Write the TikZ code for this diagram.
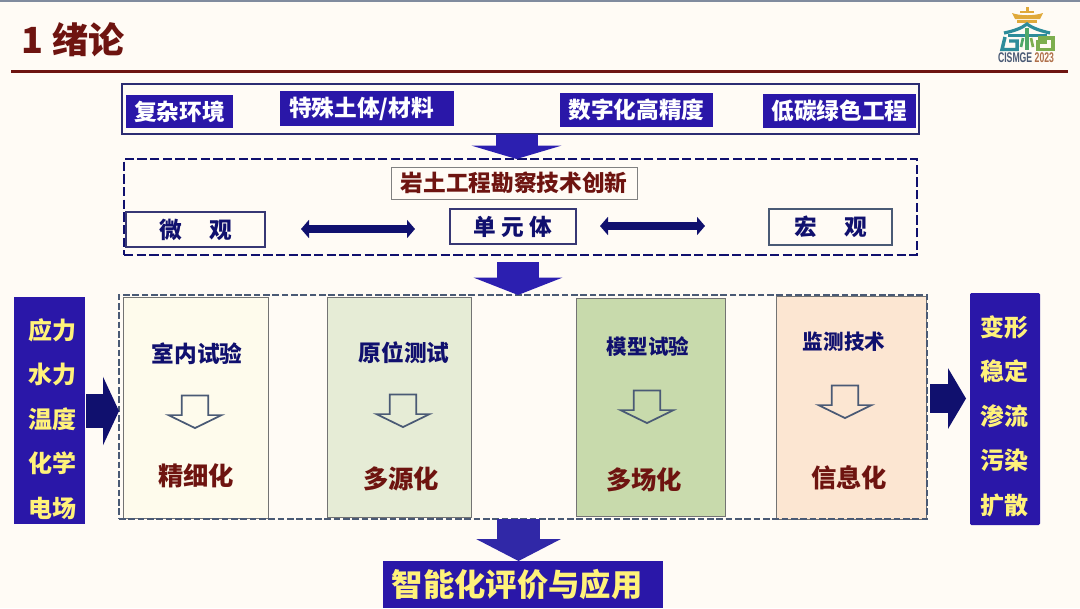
\documentclass[tikz,border=0pt]{standalone}
\usepackage{fontspec}
\setmainfont{Noto Sans CJK SC}
\newfontfamily\logofont{Liberation Sans}
\usetikzlibrary{arrows.meta,shapes.arrows,calc}
\definecolor{bgc}{HTML}{FFFBF5}
\definecolor{blueb}{HTML}{2A17A8}
\definecolor{navy}{HTML}{10106E}
\definecolor{maroon}{HTML}{6E1410}
\definecolor{slate}{HTML}{4A5A75}
\definecolor{yel}{HTML}{FFF27A}
\definecolor{boxa}{HTML}{FEFBEC}
\definecolor{boxb}{HTML}{E6ECD6}
\definecolor{boxc}{HTML}{C8DAAC}
\definecolor{boxd}{HTML}{FCE6D2}
\definecolor{arrowb}{HTML}{2C1FB0}
\definecolor{lgold}{HTML}{E0A93A}
\definecolor{lteal}{HTML}{2E8C9A}
\definecolor{lgreen}{HTML}{4FA868}
\definecolor{lolive}{HTML}{7DAE4E}
\definecolor{lbrown}{HTML}{B0704A}
\tikzset{
  x=0.75pt,y=-0.75pt,
  boxat/.style args={#1/#2/#3/#4}{minimum width=(#3-#1)*0.75pt,minimum height=(#4-#2)*0.75pt,inner sep=0pt,outer sep=0pt,anchor=center,at={({(#1+#3)/2},{(#2+#4)/2})}},
  bluebox/.style={fill=blueb,text=white,font=\bfseries\fontsize{17}{20}\selectfont},
  whitebox/.style={draw=navy!65!gray,line width=0.8pt,fill=bgc,text=navy,font=\bfseries\fontsize{17}{20}\selectfont},
  sidebox/.style={fill=blueb},
  sidetext/.style={text=yel,align=center,inner sep=0pt,font=\bfseries\fontsize{18}{33.4}\selectfont},
  panel/.style={draw=gray!90!black,line width=0.6pt},
  panelhead/.style={text=navy,font=\bfseries\fontsize{17}{20}\selectfont,inner sep=0pt},
  panelheadsm/.style={text=navy,font=\bfseries\fontsize{15.4}{18}\selectfont,inner sep=0pt},
  panelfoot/.style={text=maroon,font=\bfseries\fontsize{19}{22}\selectfont,inner sep=0pt},
  openarrow/.style={shape=single arrow,rotate=-90,draw=slate,line width=1.3pt,fill=none,minimum height=24.5pt,single arrow head extend=10pt,single arrow tip angle=128,inner sep=0pt,outer sep=0pt},
  twohead/.style={navy,line width=6.5pt,{Triangle[length=6pt,width=13.5pt]}-{Triangle[length=6pt,width=13.5pt]}},
}
\newcommand{\opn}{\rule{0pt}{18.5pt}}
\begin{document}
\begin{tikzpicture}
\useasboundingbox (0,0) rectangle (1080,608);
\fill[bgc] (0,0) rectangle (1080,608);
\fill[slate!70!white] (0,0) rectangle (1080,1.5);
% title
\node[anchor=west,inner sep=0pt,text=maroon,font=\bfseries\fontsize{27}{30}\selectfont] (title) at (21,40) {1\hspace{7pt}绪论};
\coordinate (ruleL) at (11,71.5);
\coordinate (ruleR) at (1068,71.5);
\draw[maroon,line width=2.4pt] (ruleL) -- (ruleR);
% logo
\fill[lgold] (1025.5,7) rectangle (1028.5,13);
\fill[lgold] (1020,10.5) rectangle (1034,12.5);
\fill[lgold] (1012,13) .. controls (1020,16) and (1034,16) .. (1043,13) -- (1040,19) -- (1015,19) -- cycle;
\fill[lgold] (1017,20) rectangle (1037,22.5);
\draw[lteal,line width=2.4pt] (1004,33) .. controls (1014,31) and (1022,28) .. (1027,24) .. controls (1032,28) and (1041,31) .. (1050,33);
\draw[lteal,line width=2pt] (1008,35.5) -- (1047,35.5);
\draw[lteal,line width=2.6pt] (1005,37) -- (1002,49.5) -- (1017,49.5) -- (1017,41) -- (1009,41);
\draw[lgreen,line width=2.6pt] (1027,28) -- (1027,50);
\draw[lgreen,line width=2pt] (1021,47) -- (1023,38);
\draw[lolive,line width=2pt] (1031,38) -- (1033,47);
\draw[lolive,line width=2.6pt] (1038,38) -- (1053,38) -- (1053,49.5) -- (1038,49.5) -- (1038,42) -- (1047,42);
\node[inner sep=0pt,font=\logofont\bfseries\fontsize{10.5}{12}\selectfont,anchor=center,xscale=0.62] (logotext) at (1026,58) {\textcolor{slate}{CISMGE} \textcolor{lbrown}{2023}};
% top group
\node[boxat=122/84/919/134,draw=navy!75!gray,line width=0.8pt] (top) {};
\node[boxat=126/95/233/128,bluebox] (c1) {复杂环境};
\node[boxat=280/91/454/126,bluebox] (c2) {特殊土体/材料\kern 8pt\null};
\node[boxat=560/93/713/127,bluebox] (c3) {数字化高精度};
\node[boxat=763/94/916/128,bluebox] (c4) {低碳绿色工程};
% dashed group
\node[boxat=124/159/917/255,draw=navy,line width=2.2pt,dash pattern=on 7pt off 2.5pt] (mid) {};
\node[boxat=391/167/637/199,draw=gray,line width=.7pt,fill=bgc,text=maroon,font=\bfseries\fontsize{17}{20}\selectfont] (innov) {岩土工程勘察技术创新};
\node[boxat=126/212/265/247,whitebox] (micro) {微\hspace{1.2em}观};
\node[boxat=450/209/576/244,whitebox] (unit) {单\hspace{4pt}元\hspace{4pt}体};
\node[boxat=769/209/892/245,whitebox,draw=slate] (macro) {宏\hspace{1.2em}观};
\draw[twohead] ($(micro.east)+(36,-0.5)$) -- ($(unit.west)+(-35,2.5)$);
\draw[twohead] ($(unit.east)+(24,-0.5)$) -- ($(macro.west)+(-64,-1)$);
% big dashed
\node[boxat=123/297/268/518,panel,fill=boxa] (p1) {};
\node[boxat=327/297/471/517,panel,fill=boxb] (p2) {};
\node[boxat=576/298/725/516,panel,fill=boxc] (p3) {};
\node[boxat=776/296/926/519,panel,fill=boxd] (p4) {};
\node[boxat=119/295/927/519,draw=slate,line width=1.3pt,dash pattern=on 5pt off 2pt] (big) {};
\node[panelhead] (h1) at (197,354) {室内试验};
\node[panelhead] (h2) at (404,353) {原位测试};
\node[panelheadsm] (h3) at (648,347) {模型试验};
\node[panelheadsm] (h4) at (844,342) {监测技术};
\node[openarrow] (o1) at (195,408.5) {\opn};
\node[openarrow] (o2) at (403,407.5) {\opn};
\node[openarrow] (o3) at (647,403.5) {\opn};
\node[openarrow] (o4) at (845,398.5) {\opn};
\node[panelfoot] (f1) at (196,476) {精细化};
\node[panelfoot] (f2) at (401,479) {多源化};
\node[panelfoot] (f3) at (644,480) {多场化};
\node[panelfoot] (f4) at (849,478) {信息化};
% side
\node[boxat=14/297/85/524,sidebox] (left) {};
\node[boxat=970/293/1040/525,sidebox,rounded corners=1pt] (right) {};
\node[sidetext] (lt) at (52,419) {应力\\水力\\温度\\化学\\电场};
\node[sidetext] (rt) at (1004.5,416) {变形\\稳定\\渗流\\污染\\扩散};
% bottom
\node[boxat=383/561/663/608,fill=blueb,text=yel,font=\bfseries\fontsize{23.5}{26}\selectfont] (res) {智能化评价与应用\kern 9pt\null};
% block arrows
\draw[line width=31.5pt,arrowb,-{Triangle[length=10pt,width=67pt]}] ($(top.south)+(-4,0)$) -- ($(mid.north)+(-4,0)$);
\draw[line width=32pt,arrowb,-{Triangle[length=13pt,width=66pt]}] ($(mid.south)+(-2.5,7)$) -- ($(big.north)+(-5,0)$);
\draw[line width=32pt,arrowb!85!slate,-{Triangle[length=16.5pt,width=63pt]}] ($(big.south)+(-4.5,0)$) -- ($(res.north)+(-4.5,0)$);
\draw[line width=25pt,navy,-{Triangle[length=12pt,width=51pt]}] ($(left.east)+(1,0.5)$) -- ($(big.west)+(0,4)$);
\draw[line width=22pt,navy,-{Triangle[length=13.5pt,width=45pt]}] ($(big.east)+(3,-8.5)$) -- ($(right.west)+(-4,-10.5)$);
\end{tikzpicture}
\end{document}
